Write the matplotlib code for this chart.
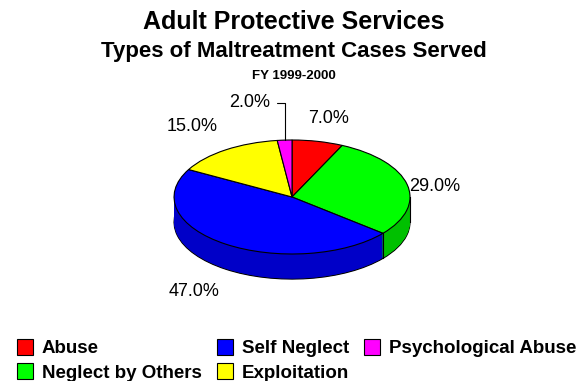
import numpy as np
import matplotlib
matplotlib.use('Agg')
import matplotlib.pyplot as plt
from matplotlib.patches import Patch

plt.rcParams['font.family'] = ['Liberation Sans', 'DejaVu Sans']

# data
categories = ['Abuse', 'Neglect by Others', 'Self Neglect', 'Exploitation', 'Psychological Abuse']
shares = [7.0, 29.0, 47.0, 15.0, 2.0]
top_colors = ['#FF0000', '#00FF00', '#0000FF', '#FFFF00', '#FF00FF']
side_colors = ['#C00000', '#00C000', '#0000C8', '#C0C000', '#C000C0']
label_dist = [1.42, 1.24, 1.48, 1.5, None]

depth = 0.44      # thickness of the pie, in y data units
n_layers = 40

fig = plt.figure(figsize=(5.87, 3.81), dpi=100)
ax = fig.add_axes([0, 0, 1, 1])

# bottom outline, then the side stack, then the top face
ax.pie(shares, colors=side_colors, startangle=90, counterclock=False,
       center=(0, -depth), wedgeprops=dict(edgecolor='black', linewidth=0.8))
for off in np.linspace(-depth, 0, n_layers)[1:-1]:
    ax.pie(shares, colors=side_colors, startangle=90, counterclock=False,
           center=(0, off), wedgeprops=dict(edgecolor='none', linewidth=0))
ax.pie(shares, colors=top_colors, startangle=90, counterclock=False,
       center=(0, 0), wedgeprops=dict(edgecolor='black', linewidth=0.8))

# vertical edges of the side wall: slice boundaries in front + outer ends
bounds = 90 - np.cumsum([0] + shares) * 3.6
for a in list(bounds) + [180.0, 0.0]:
    r = np.deg2rad(a)
    if np.sin(r) <= 0:
        ax.plot([np.cos(r)] * 2, [np.sin(r), np.sin(r) - depth], color='black', lw=0.8)

# percent labels
mids = 90 - (np.cumsum(shares) - np.array(shares) / 2) * 3.6
for val, mid, dist in zip(shares, mids, label_dist):
    r = np.deg2rad(mid)
    if dist is None:
        ax.annotate(f'{val:.1f}%', xy=(np.cos(r), np.sin(r)),
                    xytext=(np.cos(r) - 0.12, 1.65), ha='right', va='center',
                    fontsize=13,
                    arrowprops=dict(arrowstyle='-', lw=0.8, color='black',
                                    connectionstyle='angle,angleA=0,angleB=90,rad=0',
                                    shrinkA=3, shrinkB=0))
        continue
    x = dist * np.cos(r)
    y = dist * np.sin(r) - (depth if np.sin(r) < 0 else 0)
    if mid < 45 and mid > 0:
        y -= 0.08
    ax.text(x, y, f'{val:.1f}%', ha='center', va='center', fontsize=13)

ax.set_aspect('auto')
ax.set_xlim(-2.475, 2.5)
ax.set_ylim(-3.228, 3.456)
ax.axis('off')

fig.text(0.5, 0.943, 'Adult Protective Services', ha='center', va='center',
         fontsize=18, fontweight='bold')
fig.text(0.5, 0.866, 'Types of Maltreatment Cases Served', ha='center', va='center',
         fontsize=16, fontweight='bold')
fig.text(0.5, 0.800, 'FY 1999-2000', ha='center', va='center',
         fontsize=9.5, fontweight='bold')

handles = [Patch(facecolor=c, edgecolor='black', linewidth=0.8) for c in top_colors]
fig.legend(handles, categories, ncol=3, loc='upper left',
           bbox_to_anchor=(17 / 587, 1 - 339 / 381), frameon=False,
           prop=dict(size=13.5, weight='bold'), handlelength=0.85,
           handleheight=0.9, handletextpad=0.48, columnspacing=0.8,
           labelspacing=0.32, borderpad=0, borderaxespad=0)

fig.savefig('out.png', dpi=100)
